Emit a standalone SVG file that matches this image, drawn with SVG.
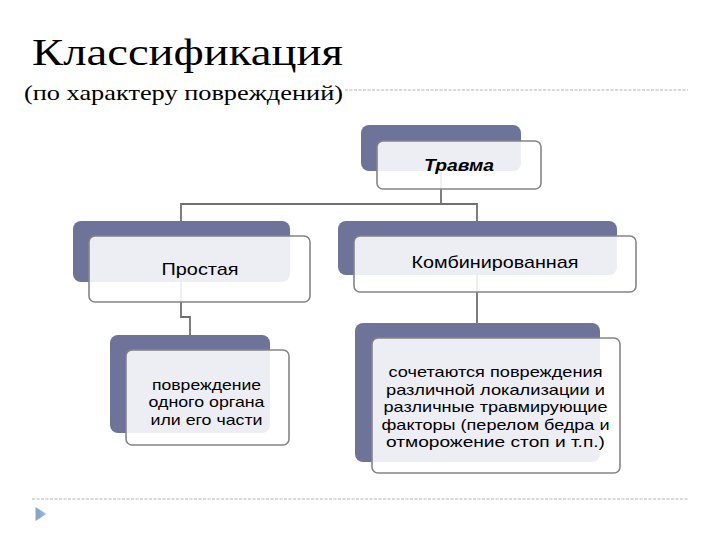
<svg xmlns="http://www.w3.org/2000/svg" width="720" height="540" viewBox="0 0 720 540">
<defs>
<style>
.back{fill:#6D7399;}
.front{fill:#ffffff;fill-opacity:0.88;stroke:#858585;stroke-width:1.6;}
.conn{fill:none;stroke:#707070;stroke-width:1.8;}
.lbl{font-family:"Liberation Sans",Arial,sans-serif;fill:#000;text-anchor:middle;}
.l1{font-size:17px;}
.l2{font-size:15px;}
.dash{stroke:#b4b4b4;stroke-width:1.2;stroke-dasharray:3 1.5;}
.serif{font-family:"Liberation Serif","Times New Roman",serif;fill:#000;}
</style>
<linearGradient id="tri" x1="0" y1="0" x2="1" y2="0">
<stop offset="0" stop-color="#9aa6b4"/>
<stop offset="0.3" stop-color="#7fa7d6"/>
<stop offset="1" stop-color="#a9c6e6"/>
</linearGradient>
</defs>
<rect width="720" height="540" fill="#ffffff"/>
<g id="title">
<text class="serif" x="32" y="65" font-size="38" textLength="311" lengthAdjust="spacingAndGlyphs">Классификация</text>
<text class="serif" x="24" y="100" font-size="21" textLength="319" lengthAdjust="spacingAndGlyphs">(по характеру повреждений)</text>
<line class="dash" x1="345" y1="90" x2="688" y2="90"/>
<line class="dash" x1="32" y1="499" x2="688" y2="499"/>
<polygon points="35.5,507 46.5,514 35.5,521" fill="url(#tri)"/>
</g>
<g id="connectors">
<path class="conn" d="M441,171 V204"/>
<path class="conn" d="M181,221 V204 H477 V221"/>
<path class="conn" d="M181,282 V317 H190 V335"/>
<path class="conn" d="M477,275 V323"/>
</g>
<g id="node-travma">
<rect class="back" x="361" y="125" width="160" height="46" rx="8"/>
<rect class="front" x="377" y="141" width="164" height="48" rx="6"/>
<text class="lbl" x="459" y="171" font-size="17" font-weight="bold" font-style="italic" textLength="70" lengthAdjust="spacingAndGlyphs">Травма</text>
</g>
<g id="node-prostaya">
<rect class="back" x="73" y="221" width="217" height="61" rx="8"/>
<rect class="front" x="89" y="236" width="221" height="66" rx="6"/>
<text class="lbl l1" x="200" y="275" textLength="77" lengthAdjust="spacingAndGlyphs">Простая</text>
</g>
<g id="node-kombinirovannaya">
<rect class="back" x="338" y="221" width="279" height="54" rx="8"/>
<rect class="front" x="354" y="236" width="282" height="56" rx="6"/>
<text class="lbl l1" x="495" y="268" textLength="167" lengthAdjust="spacingAndGlyphs">Комбинированная</text>
</g>
<g id="node-prostaya-desc">
<rect class="back" x="110" y="335" width="160" height="98" rx="8"/>
<rect class="front" x="126" y="350" width="163" height="95" rx="6"/>
<text class="lbl l2" x="206.5" y="389.5" textLength="109" lengthAdjust="spacingAndGlyphs">повреждение</text>
<text class="lbl l2" x="206.5" y="407" textLength="116" lengthAdjust="spacingAndGlyphs">одного органа</text>
<text class="lbl l2" x="206.5" y="424.5" textLength="112" lengthAdjust="spacingAndGlyphs">или его части</text>
</g>
<g id="node-komb-desc">
<rect class="back" x="355" y="323" width="245" height="139" rx="8"/>
<rect class="front" x="372" y="338" width="248" height="135" rx="6"/>
<text class="lbl l2" x="495.5" y="377.3" textLength="214" lengthAdjust="spacingAndGlyphs">сочетаются повреждения</text>
<text class="lbl l2" x="495.5" y="394.8" textLength="219" lengthAdjust="spacingAndGlyphs">различной локализации и</text>
<text class="lbl l2" x="495.5" y="412.3" textLength="224" lengthAdjust="spacingAndGlyphs">различные травмирующие</text>
<text class="lbl l2" x="495.5" y="429.8" textLength="228" lengthAdjust="spacingAndGlyphs">факторы (перелом бедра и</text>
<text class="lbl l2" x="495.5" y="447.3" textLength="219" lengthAdjust="spacingAndGlyphs">отморожение стоп и т.п.)</text>
</g>
</svg>
